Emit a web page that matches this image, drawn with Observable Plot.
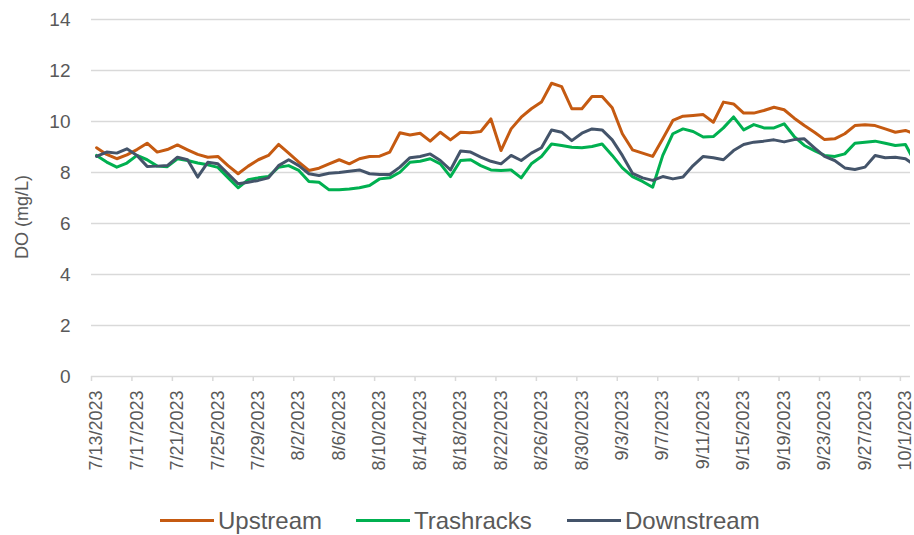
<!DOCTYPE html>
<html><head><meta charset="utf-8">
<script src="https://cdn.jsdelivr.net/npm/d3@7"></script>
<script src="https://cdn.jsdelivr.net/npm/@observablehq/plot@0.6"></script>
<style>
body{margin:0;background:#fff;font-family:"Liberation Sans",Arial,sans-serif;}
#wrap{position:relative;width:914px;height:535px;overflow:hidden;}
#legend{position:absolute;left:0;top:0;width:914px;height:535px;pointer-events:none;}
.lline{position:absolute;height:3px;width:54px;}
.ltext{position:absolute;font-size:24px;line-height:24px;color:#595959;white-space:nowrap;}
</style></head><body>
<div id="wrap"><div id="chart"></div><div id="legend"></div></div>
<script>
const seriesNames = ["Upstream", "Trashracks", "Downstream"];
const seriesColors = ["#C55A11", "#00B050", "#44546A"];
const firstDay = [2023, 6, 13]; // July 13, 2023 (daily readings)
const upstream = [8.97,8.71,8.54,8.69,8.9,9.15,8.8,8.9,9.08,8.89,8.71,8.6,8.63,8.27,7.95,8.25,8.5,8.67,9.1,8.76,8.41,8.08,8.17,8.34,8.5,8.34,8.54,8.63,8.64,8.8,9.56,9.47,9.54,9.23,9.58,9.28,9.58,9.56,9.61,10.1,8.86,9.71,10.17,10.5,10.76,11.5,11.37,10.5,10.5,10.98,10.98,10.54,9.52,8.89,8.76,8.63,9.32,10.04,10.21,10.24,10.27,9.97,10.76,10.69,10.33,10.33,10.43,10.56,10.46,10.13,9.84,9.58,9.29,9.32,9.52,9.84,9.87,9.84,9.71,9.58,9.65,9.5];
const trashracks = [8.67,8.41,8.21,8.37,8.67,8.5,8.25,8.23,8.54,8.47,8.37,8.3,8.2,7.8,7.4,7.72,7.79,7.84,8.21,8.27,8.08,7.65,7.62,7.32,7.32,7.35,7.4,7.49,7.75,7.79,8.01,8.4,8.44,8.54,8.34,7.84,8.47,8.5,8.27,8.1,8.08,8.1,7.79,8.34,8.63,9.12,9.06,8.99,8.97,9.02,9.12,8.67,8.18,7.84,7.65,7.42,8.67,9.52,9.71,9.61,9.39,9.41,9.75,10.18,9.67,9.88,9.75,9.75,9.91,9.41,9.06,8.86,8.67,8.63,8.73,9.15,9.19,9.23,9.15,9.06,9.1,8.35];
const downstream = [8.63,8.8,8.76,8.93,8.67,8.24,8.25,8.27,8.6,8.5,7.82,8.4,8.34,7.95,7.56,7.62,7.69,7.79,8.27,8.5,8.27,7.95,7.88,7.97,8.0,8.05,8.1,7.95,7.92,7.92,8.21,8.58,8.63,8.73,8.47,8.1,8.84,8.8,8.6,8.44,8.34,8.67,8.47,8.76,8.97,9.67,9.58,9.25,9.54,9.71,9.67,9.28,8.67,7.97,7.79,7.69,7.84,7.75,7.82,8.27,8.63,8.58,8.5,8.86,9.1,9.19,9.23,9.28,9.2,9.29,9.32,8.97,8.63,8.47,8.18,8.12,8.21,8.67,8.58,8.6,8.54,8.27];
const xTickLabels = ["7/13/2023","7/17/2023","7/21/2023","7/25/2023","7/29/2023","8/2/2023","8/6/2023","8/10/2023","8/14/2023","8/18/2023","8/22/2023","8/26/2023","8/30/2023","9/3/2023","9/7/2023","9/11/2023","9/15/2023","9/19/2023","9/23/2023","9/27/2023","10/1/2023"];
const yTicks = [0, 2, 4, 6, 8, 10, 12, 14];
const yTitle = "DO (mg/L)";

const DAY = 864e5;
const t0 = Date.UTC(firstDay[0], firstDay[1], firstDay[2]);
const parseLabel = s => { const [m, d, y] = s.split("/").map(Number); return new Date(Date.UTC(y, m - 1, d)); };
const tickDates = xTickLabels.map(parseLabel);
const fmt = d => `${d.getUTCMonth() + 1}/${d.getUTCDate()}/${d.getUTCFullYear()}`;
const seriesVals = [upstream, trashracks, downstream];
const rows = [];
seriesVals.forEach((vals, si) => vals.forEach((v, i) => rows.push({series: seriesNames[si], date: new Date(t0 + i * DAY + DAY / 2), value: v})));
const xDomain = [new Date(t0), new Date(t0 + (tickDates.length - 1) * 4 * DAY + DAY)];

const grid = "#D9D9D9";
const textColor = "#595959";
const chart = Plot.plot({
  width: 914, height: 495,
  marginLeft: 91, marginRight: 4, marginTop: 19, marginBottom: 119,
  style: {fontFamily: '"Liberation Sans", Arial, sans-serif', fontSize: "18px", color: textColor, background: "#fff"},
  x: {type: "utc", domain: xDomain, axis: null},
  y: {domain: [0, 14], axis: null},
  color: {domain: seriesNames, range: seriesColors},
  marks: [
    Plot.ruleY(yTicks, {stroke: grid, strokeWidth: 1.5}),
    Plot.axisY(yTicks, {tickSize: 0, tickPadding: 21, fontSize: 19, fill: textColor, label: null}),
    Plot.text([yTitle], {frameAnchor: "left", textAnchor: "middle", dx: -69, dy: 19, rotate: -90, fontSize: 18, fill: textColor}),
    Plot.axisX(tickDates, {tickFormat: () => "", tickSize: 5, stroke: grid, strokeWidth: 1.5, label: null}),
    Plot.axisX(tickDates, {tickFormat: fmt, tickRotate: -90, tickSize: 0, tickPadding: 14, dx: 5, fill: textColor, fontSize: 18, label: null}),
    Plot.line(rows, {x: "date", y: "value", z: "series", stroke: "series", strokeWidth: 3, clip: true, strokeLinejoin: "round", strokeLinecap: "round"})
  ]
});
document.getElementById("chart").appendChild(chart);

const legendPos = [[160, 218], [356, 414], [567, 625]];
const leg = document.getElementById("legend");
seriesNames.forEach((n, i) => {
  const l = document.createElement("div");
  l.className = "lline"; l.style.left = legendPos[i][0] + "px"; l.style.top = "519px"; l.style.background = seriesColors[i];
  const t = document.createElement("div");
  t.className = "ltext"; t.style.left = legendPos[i][1] + "px"; t.style.top = "509px"; t.textContent = n;
  leg.appendChild(l); leg.appendChild(t);
});
</script></body></html>
